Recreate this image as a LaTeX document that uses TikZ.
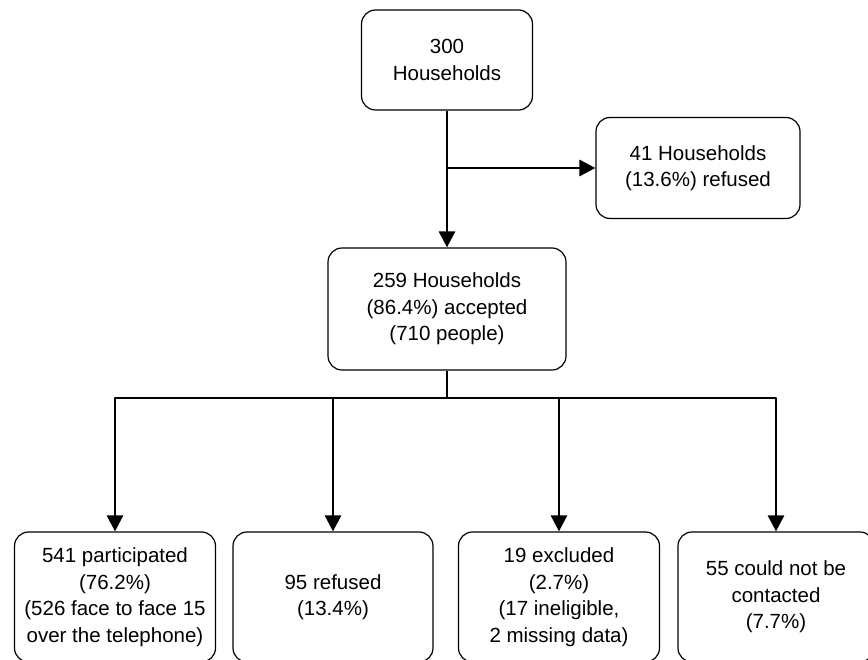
\documentclass[tikz,border=0pt]{standalone}
\usepackage{fontspec}
\setmainfont{Liberation Sans}
\usetikzlibrary{arrows.meta,positioning}
\begin{document}
\begin{tikzpicture}[x=1pt, y=-1pt, line join=round, >={Triangle[length=16pt,width=16pt]},
	box/.style={draw, line width=1.2pt, rounded corners=14pt, align=center, inner sep=0pt, font=\fontsize{20.5}{26.5}\selectfont},
	flow/.style={line width=2.8pt}]
	\def\rowy{597};\def\splity{398};
	\useasboundingbox (0,0) rectangle (868,660);
	% top part
	\node[box, minimum width=171pt, minimum height=100pt] (hh) at (447,60) {300\\Households};
	\node[box, minimum width=204pt, minimum height=101pt] (ref) at (698,168) {41 Households\\(13.6\%) refused};
	\node[box, minimum width=238pt, minimum height=122pt] (acc) at (447,309) {259 Households\\(86.4\%) accepted\\(710 people)};
	\coordinate (branch) at (hh.south |- ref.west);
	\draw[flow, ->] (hh.south) -- (acc.north);
	\draw[flow, ->] (branch) -- (ref.west);
	% bottom row
	\node[box, minimum width=201pt, minimum height=130pt] (part) at (115,\rowy) {541 participated\\(76.2\%)\\(526 face to face 15\\over the telephone)};
	\node[box, minimum width=200pt, minimum height=130pt] (refb) at (333,\rowy) {95 refused\\(13.4\%)};
	\node[box, minimum width=201pt, minimum height=130pt] (excl) at (559,\rowy) {19 excluded\\(2.7\%)\\(17 ineligible,\\2 missing data)};
	\node[box, minimum width=196pt, minimum height=130pt] (nocon) at (776,\rowy) {55 could not be\\contacted\\(7.7\%)};
	\coordinate (split) at (acc.south |- 0,\splity);
	\draw[flow] (acc.south) -- (split);
	\foreach \b in {part,refb,excl,nocon}{\draw[flow, ->] (split) -| (\b.north);}
\end{tikzpicture}
\end{document}
